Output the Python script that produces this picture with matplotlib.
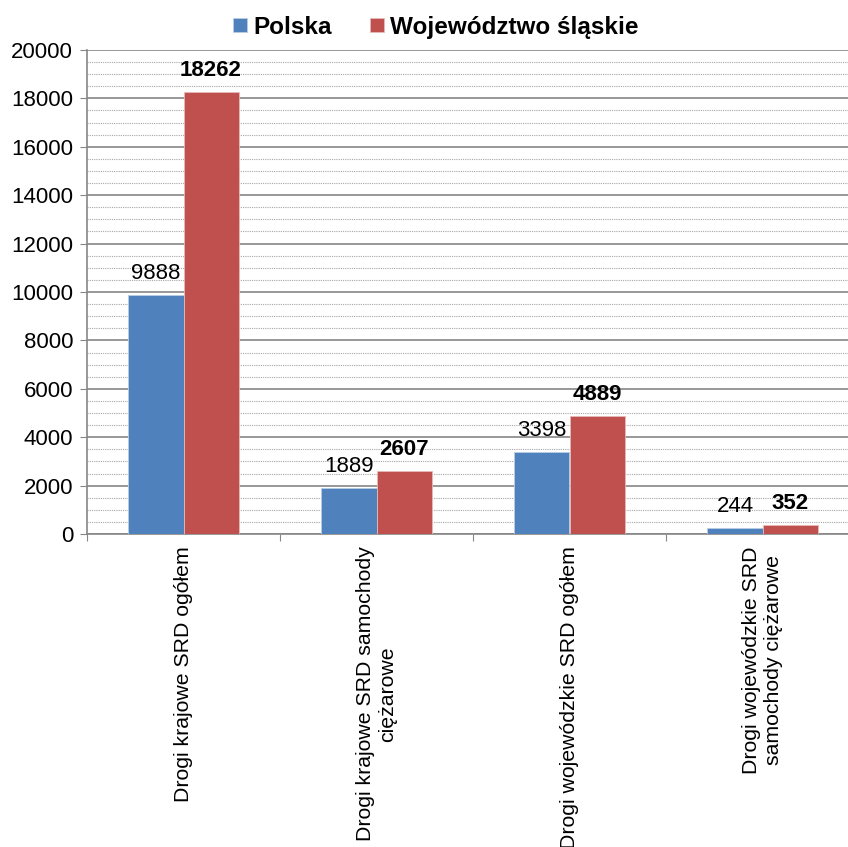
import numpy as np
import matplotlib
matplotlib.use('Agg')
import matplotlib.pyplot as plt
from matplotlib.ticker import MultipleLocator

plt.rcParams['font.family'] = ['Liberation Sans', 'DejaVu Sans']

# Dane
kategorie = [
    'Drogi krajowe SRD ogółem',
    'Drogi krajowe SRD samochody\nciężarowe',
    'Drogi wojewódzkie SRD ogółem',
    'Drogi wojewódzkie SRD\nsamochody ciężarowe',
]
polska = [9888, 1889, 3398, 244]
slaskie = [18262, 2607, 4889, 352]
serie = ['Polska', 'Województwo śląskie']

KOLOR_PL = '#4F81BD'
KOLOR_SL = '#C0504D'
SZARY = '#868686'

fig = plt.figure(figsize=(8.48, 8.47), dpi=100)
ax = fig.add_axes([87 / 848, 313 / 847, 772 / 848, 484 / 847])

x = np.arange(len(kategorie))
w = 0.285

b1 = ax.bar(x - w / 2, polska, w, color=KOLOR_PL, edgecolor='#b9cde5', linewidth=0.6, label=serie[0], zorder=3)
b2 = ax.bar(x + w / 2, slaskie, w, color=KOLOR_SL, edgecolor='#e6b9b8', linewidth=0.6, label=serie[1], zorder=3)

for rect, v in zip(b1, polska):
    ax.annotate(str(v), (rect.get_x() + rect.get_width() / 2, v), xytext=(0, 8),
                textcoords='offset points', ha='center', va='bottom', fontsize=16)
for rect, v in zip(b2, slaskie):
    ax.annotate(str(v), (rect.get_x() + rect.get_width() / 2, v), xytext=(0, 8),
                textcoords='offset points', ha='center', va='bottom', fontsize=16,
                fontweight='bold')

ax.set_xlim(-0.5, len(kategorie) - 0.5)
ax.set_ylim(0, 20000)
ax.yaxis.set_major_locator(MultipleLocator(2000))
ax.yaxis.set_minor_locator(MultipleLocator(500))
ax.grid(axis='y', which='major', color=SZARY, linewidth=1.2, zorder=0)
ax.grid(axis='y', which='minor', color='#a6a6a6', linewidth=0.8, linestyle=(0, (1, 1)), zorder=0)
ax.set_axisbelow(True)

# granice kategorii jako ticki
ax.set_xticks(np.arange(len(kategorie) + 1) - 0.5)
ax.set_xticklabels([])
ax.set_xticks(x, kategorie, minor=True)
ax.tick_params(axis='x', which='major', length=5, color=SZARY, direction='out')
ax.tick_params(axis='x', which='minor', length=0, pad=9)
for t in ax.get_xticklabels(minor=True):
    t.set_rotation(90)
    t.set_va('top')
    t.set_ha('center')
    t.set_multialignment('center')
    t.set_fontsize(15.3)

ax.tick_params(axis='y', which='major', length=5, color=SZARY, labelsize=16, pad=5)
ax.tick_params(axis='y', which='minor', length=0)

for s in ['top', 'right']:
    ax.spines[s].set_visible(False)
for s in ['left', 'bottom']:
    ax.spines[s].set_color(SZARY)
    ax.spines[s].set_linewidth(1.2)

fig.legend(handles=[b1, b2], labels=serie, loc='center', bbox_to_anchor=(0.514, 0.968),
           ncol=2, frameon=False, handlelength=0.55, handleheight=0.55, handletextpad=0.25,
           columnspacing=1.6, prop={'weight': 'bold', 'size': 17.5})

fig.savefig('out.png', dpi=100)
